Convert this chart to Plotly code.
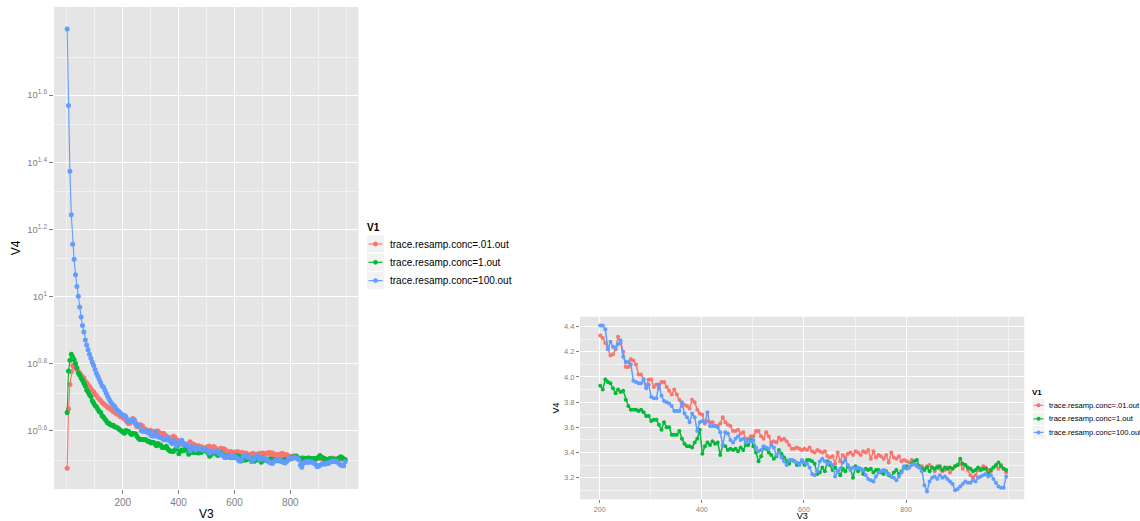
import plotly.graph_objects as go

W, H = 1140, 521

# ---------------- data ----------------
series_names = ["trace.resamp.conc=.01.out", "trace.resamp.conc=1.out", "trace.resamp.conc=100.out"]
series_colors = ["#F8766D", "#00BA38", "#619CFF"]

v3 = list(range(1, 997, 5))

v4_conc_001 = [
    3.07, 4.62, 5.45, 5.95, 6.21, 6.18, 6.10, 6.05, 5.96, 5.90,
    5.82, 5.74, 5.70, 5.58, 5.52, 5.44, 5.38, 5.30, 5.22, 5.19,
    5.10, 5.06, 4.98, 4.93, 4.89, 4.82, 4.79, 4.74, 4.71, 4.66,
    4.65, 4.60, 4.58, 4.53, 4.51, 4.47, 4.45, 4.43, 4.38, 4.36,
    4.33, 4.31, 4.27, 4.23, 4.17, 4.18, 4.22, 4.32, 4.27, 4.20,
    4.08, 4.08, 4.14, 4.13, 4.10, 4.02, 4.02, 3.98, 3.93, 3.98,
    3.98, 3.92, 3.94, 3.91, 3.96, 3.96, 3.92, 3.89, 3.86, 3.90,
    3.86, 3.82, 3.77, 3.78, 3.77, 3.75, 3.82, 3.80, 3.74, 3.71,
    3.70, 3.63, 3.65, 3.64, 3.64, 3.61, 3.61, 3.63, 3.68, 3.64,
    3.62, 3.61, 3.57, 3.57, 3.58, 3.55, 3.56, 3.51, 3.51, 3.53,
    3.53, 3.57, 3.57, 3.53, 3.51, 3.56, 3.53, 3.48, 3.49, 3.48,
    3.52, 3.50, 3.51, 3.49, 3.46, 3.43, 3.43, 3.44, 3.43, 3.42,
    3.43, 3.42, 3.44, 3.41, 3.40, 3.42, 3.41, 3.40, 3.41, 3.37,
    3.36, 3.37, 3.31, 3.40, 3.33, 3.38, 3.36, 3.39, 3.40, 3.38,
    3.41, 3.40, 3.38, 3.41, 3.40, 3.42, 3.35, 3.41, 3.36, 3.38,
    3.37, 3.35, 3.38, 3.32, 3.40, 3.36, 3.35, 3.37, 3.33, 3.34,
    3.33, 3.32, 3.34, 3.31, 3.30, 3.28, 3.29, 3.27, 3.29, 3.30,
    3.28, 3.25, 3.29, 3.27, 3.25, 3.26, 3.28, 3.24, 3.27, 3.29,
    3.30, 3.31, 3.27, 3.30, 3.26, 3.22, 3.20, 3.22, 3.26, 3.27,
    3.29, 3.28, 3.26, 3.25, 3.28, 3.29, 3.27, 3.30, 3.27, 3.24,
]

v4_conc_1 = [
    4.50, 5.98, 6.44, 6.71, 6.59, 6.47, 6.30, 6.12, 5.90, 5.81,
    5.70, 5.62, 5.50, 5.40, 5.25, 5.18, 5.08, 5.02, 4.88, 4.80,
    4.72, 4.68, 4.60, 4.53, 4.50, 4.40, 4.36, 4.30, 4.25, 4.19,
    4.18, 4.14, 4.12, 4.12, 4.08, 4.07, 4.05, 4.02, 3.99, 3.96,
    3.93, 3.90, 3.98, 3.96, 3.95, 3.91, 3.87, 3.90, 3.88, 3.89,
    3.82, 3.77, 3.74, 3.74, 3.74, 3.73, 3.74, 3.72, 3.69, 3.69,
    3.65, 3.66, 3.66, 3.62, 3.58, 3.64, 3.60, 3.60, 3.54, 3.54,
    3.54, 3.57, 3.51, 3.47, 3.45, 3.45, 3.44, 3.48, 3.51, 3.58,
    3.39, 3.45, 3.48, 3.46, 3.49, 3.47, 3.48, 3.38, 3.46, 3.45,
    3.42, 3.43, 3.42, 3.43, 3.41, 3.44, 3.42, 3.46, 3.46, 3.50,
    3.45, 3.40, 3.33, 3.37, 3.44, 3.43, 3.40, 3.38, 3.35, 3.37,
    3.42, 3.39, 3.36, 3.33, 3.31, 3.34, 3.33, 3.30, 3.31, 3.33,
    3.30, 3.34, 3.34, 3.33, 3.31, 3.23, 3.24, 3.28, 3.25, 3.33,
    3.30, 3.26, 3.28, 3.25, 3.22, 3.27, 3.25, 3.29, 3.27, 3.20,
    3.29, 3.25, 3.27, 3.23, 3.27, 3.26, 3.27, 3.24, 3.26, 3.26,
    3.24, 3.23, 3.25, 3.22, 3.21, 3.24, 3.26, 3.23, 3.25, 3.28,
    3.29, 3.28, 3.31, 3.33, 3.34, 3.29, 3.27, 3.26, 3.28, 3.25,
    3.28, 3.27, 3.28, 3.29, 3.26, 3.28, 3.27, 3.28, 3.27, 3.29,
    3.30, 3.35, 3.31, 3.30, 3.28, 3.27, 3.25, 3.26, 3.28, 3.26,
    3.27, 3.27, 3.23, 3.26, 3.28, 3.30, 3.32, 3.29, 3.27, 3.26,
]

v4_conc_100 = [
    62.7, 37.1, 23.6, 17.5, 14.3, 12.9, 11.6, 10.7, 10.0, 9.29,
    8.67, 8.18, 7.82, 7.40, 7.16, 6.92, 6.71, 6.53, 6.35, 6.22,
    6.05, 5.89, 5.77, 5.65, 5.53, 5.41, 5.36, 5.25, 5.14, 5.03,
    4.94, 4.85, 4.79, 4.73, 4.70, 4.62, 4.57, 4.53, 4.49, 4.45,
    4.41, 4.41, 4.38, 4.22, 4.28, 4.24, 4.23, 4.26, 4.29, 4.16,
    4.12, 4.12, 4.10, 3.97, 3.96, 3.95, 3.95, 3.98, 3.91, 3.94,
    3.84, 3.83, 3.83, 3.94, 3.85, 3.81, 3.80, 3.79, 3.77, 3.73,
    3.73, 3.73, 3.80, 3.71, 3.68, 3.64, 3.71, 3.68, 3.57, 3.64,
    3.65, 3.64, 3.72, 3.61, 3.61, 3.61, 3.60, 3.56, 3.46, 3.56,
    3.55, 3.50, 3.48, 3.51, 3.53, 3.50, 3.51, 3.48, 3.50, 3.49,
    3.50, 3.44, 3.41, 3.42, 3.45, 3.44, 3.43, 3.46, 3.44, 3.38,
    3.40, 3.36, 3.33, 3.30, 3.34, 3.34, 3.33, 3.32, 3.30, 3.34,
    3.32, 3.31, 3.28, 3.23, 3.22, 3.25, 3.33, 3.35, 3.33, 3.31,
    3.32, 3.30, 3.21, 3.25, 3.27, 3.32, 3.34, 3.30, 3.26, 3.28,
    3.27, 3.28, 3.27, 3.26, 3.22, 3.19, 3.18, 3.17, 3.21, 3.24,
    3.25, 3.26, 3.24, 3.23, 3.21, 3.20, 3.18, 3.21, 3.24, 3.29,
    3.27, 3.28, 3.30, 3.31, 3.29, 3.28, 3.25, 3.14, 3.09, 3.17,
    3.20, 3.21, 3.19, 3.22, 3.20, 3.21, 3.19, 3.17, 3.15, 3.10,
    3.11, 3.13, 3.15, 3.17, 3.16, 3.16, 3.18, 3.17, 3.20, 3.21,
    3.22, 3.23, 3.21, 3.22, 3.19, 3.16, 3.13, 3.12, 3.12, 3.21,
]

series_values = [v4_conc_001, v4_conc_1, v4_conc_100]

left_x_ticks = [200, 400, 600, 800]
left_y_exponents = [0.6, 0.8, 1.0, 1.2, 1.4, 1.6]
right_x_ticks = [200, 400, 600, 800]
right_y_ticks = [3.2, 3.4, 3.6, 3.8, 4.0, 4.2, 4.4]
right_x_min = 200

legend_title = "V1"
x_title = "V3"
y_title = "V4"

# ---------------- styling helpers ----------------
FONT = "Liberation Sans, Arial, Helvetica, sans-serif"
GREY50 = "#7F7F7F"
PANEL = "#E5E5E5"
MINOR = "#F2F2F2"


def pxx(x):
    return x / W


def pxy(y):
    return (H - y) / H


fig = go.Figure()

# left panel (log y)
for name, col, vals in zip(series_names, series_colors, series_values):
    fig.add_trace(go.Scatter(
        x=v3, y=vals, mode="lines+markers", name=name,
        line=dict(color=col, width=1.1),
        marker=dict(color=col, size=5),
        xaxis="x", yaxis="y", showlegend=False,
    ))

# right panel (linear y, V3 >= 200)
for name, col, vals in zip(series_names, series_colors, series_values):
    xs = [x for x in v3 if x >= right_x_min]
    ys = [v for x, v in zip(v3, vals) if x >= right_x_min]
    fig.add_trace(go.Scatter(
        x=xs, y=ys, mode="lines+markers", name=name,
        line=dict(color=col, width=1.5),
        marker=dict(color=col, size=4),
        xaxis="x2", yaxis="y2", showlegend=False,
    ))

# log-axis tick values and minor grid (linear midpoints, as ggplot does)
major_lin = [10 ** e for e in left_y_exponents]
ext = [10 ** 0.4] + major_lin + [10 ** 1.8]
minor_lin = [(a + b) / 2 for a, b in zip(ext[:-1], ext[1:])]
left_ytext = ["10<sup>%s</sup>" % (("%g" % e)) for e in left_y_exponents]

common_axis = dict(
    showline=False, zeroline=False, ticks="outside", ticklen=4, tickwidth=1,
    tickcolor=GREY50, showgrid=True, gridcolor="white", automargin=False,
)

fig.update_layout(
    width=W, height=H,
    margin=dict(l=0, r=0, t=0, b=0),
    paper_bgcolor="white", plot_bgcolor=PANEL,
    font=dict(family=FONT, color="black"),
    showlegend=False,
    xaxis=dict(
        common_axis, domain=[pxx(54), pxx(358.5)], anchor="y",
        range=[-46, 1044], tickmode="array", tickvals=left_x_ticks,
        tickfont=dict(size=10, color=GREY50, family=FONT), gridwidth=1.4,
        minor=dict(tickmode="array", tickvals=[0, 100, 300, 500, 700, 900, 1000],
                   showgrid=True, gridcolor=MINOR, gridwidth=0.7, ticks=""),
        title=dict(text=x_title, font=dict(size=12, color="black", family=FONT), standoff=2),
    ),
    yaxis=dict(
        common_axis, domain=[pxy(489), pxy(7)], anchor="x", type="log",
        range=[0.425, 1.863], tickmode="array", tickvals=major_lin, ticktext=left_ytext,
        tickfont=dict(size=9.5, color=GREY50, family=FONT), gridwidth=1.4,
        minor=dict(tickmode="array", tickvals=minor_lin,
                   showgrid=True, gridcolor=MINOR, gridwidth=0.7, ticks=""),
        title=dict(text=y_title, font=dict(size=12, color="black", family=FONT), standoff=4),
    ),
    xaxis2=dict(
        common_axis, domain=[pxx(580), pxx(1024.3)], anchor="y2",
        range=[161.4, 1031.5], tickmode="array", tickvals=right_x_ticks,
        tickfont=dict(size=7, color=GREY50, family=FONT), gridwidth=1.2, ticklen=3,
        minor=dict(tickmode="array", tickvals=[300, 500, 700, 900, 1000],
                   showgrid=True, gridcolor=MINOR, gridwidth=0.6, ticks=""),
        title=dict(text=x_title, font=dict(size=9, color="black", family=FONT), standoff=4),
    ),
    yaxis2=dict(
        common_axis, domain=[pxy(499.3), pxy(316.7)], anchor="x2",
        range=[3.028, 4.479], tickmode="array", tickvals=right_y_ticks,
        ticktext=["%.1f" % t for t in right_y_ticks],
        tickfont=dict(size=7.5, color=GREY50, family=FONT), gridwidth=1.2, ticklen=3,
        minor=dict(tickmode="array", tickvals=[3.1, 3.3, 3.5, 3.7, 3.9, 4.1, 4.3],
                   showgrid=True, gridcolor=MINOR, gridwidth=0.6, ticks=""),
        title=dict(text=y_title, font=dict(size=9, color="black", family=FONT), standoff=2),
    ),
)

# ---------------- manual ggplot-style legends ----------------
shapes = []
annotations = []


def add_legend(title_x, title_y, title_size, box_x0, box_x1, row0, row_h,
               line_x0, line_x1, dot_r, text_x, text_size, lw):
    annotations.append(dict(
        x=pxx(title_x), y=pxy(title_y), xref="paper", yref="paper",
        text="<b>%s</b>" % legend_title, showarrow=False, xanchor="left", yanchor="middle",
        font=dict(size=title_size, color="black", family=FONT), borderpad=0,
    ))
    dot_x = (line_x0 + line_x1) / 2
    for i, (name, col) in enumerate(zip(series_names, series_colors)):
        yc = row0 + i * row_h
        shapes.append(dict(type="rect", xref="paper", yref="paper",
                           x0=pxx(box_x0), x1=pxx(box_x1),
                           y0=pxy(yc + row_h / 2), y1=pxy(yc - row_h / 2),
                           fillcolor=MINOR, line=dict(color="white", width=1)))
        shapes.append(dict(type="line", xref="paper", yref="paper",
                           x0=pxx(line_x0), x1=pxx(line_x1), y0=pxy(yc), y1=pxy(yc),
                           line=dict(color=col, width=lw)))
        shapes.append(dict(type="circle", xref="paper", yref="paper",
                           x0=pxx(dot_x - dot_r), x1=pxx(dot_x + dot_r),
                           y0=pxy(yc + dot_r), y1=pxy(yc - dot_r),
                           fillcolor=col, line=dict(width=0)))
        annotations.append(dict(
            x=pxx(text_x), y=pxy(yc), xref="paper", yref="paper", text=name,
            showarrow=False, xanchor="left", yanchor="middle",
            font=dict(size=text_size, color="black", family=FONT), borderpad=0,
        ))


add_legend(366, 227.5, 10, 366.5, 384.5, 244.0, 18.3, 368.5, 382.5, 2.4, 389, 10, 1.2)
add_legend(1031, 392.7, 8, 1032, 1045, 405.3, 13.55, 1033.5, 1043.5, 2.0, 1047.5, 7.6, 1.1)

fig.update_layout(shapes=shapes, annotations=annotations)

fig.write_html(
    "out.html",
    config=dict(displayModeBar=False),
    post_script="document.body.style.margin='0px';document.body.style.overflow='hidden';",
)
